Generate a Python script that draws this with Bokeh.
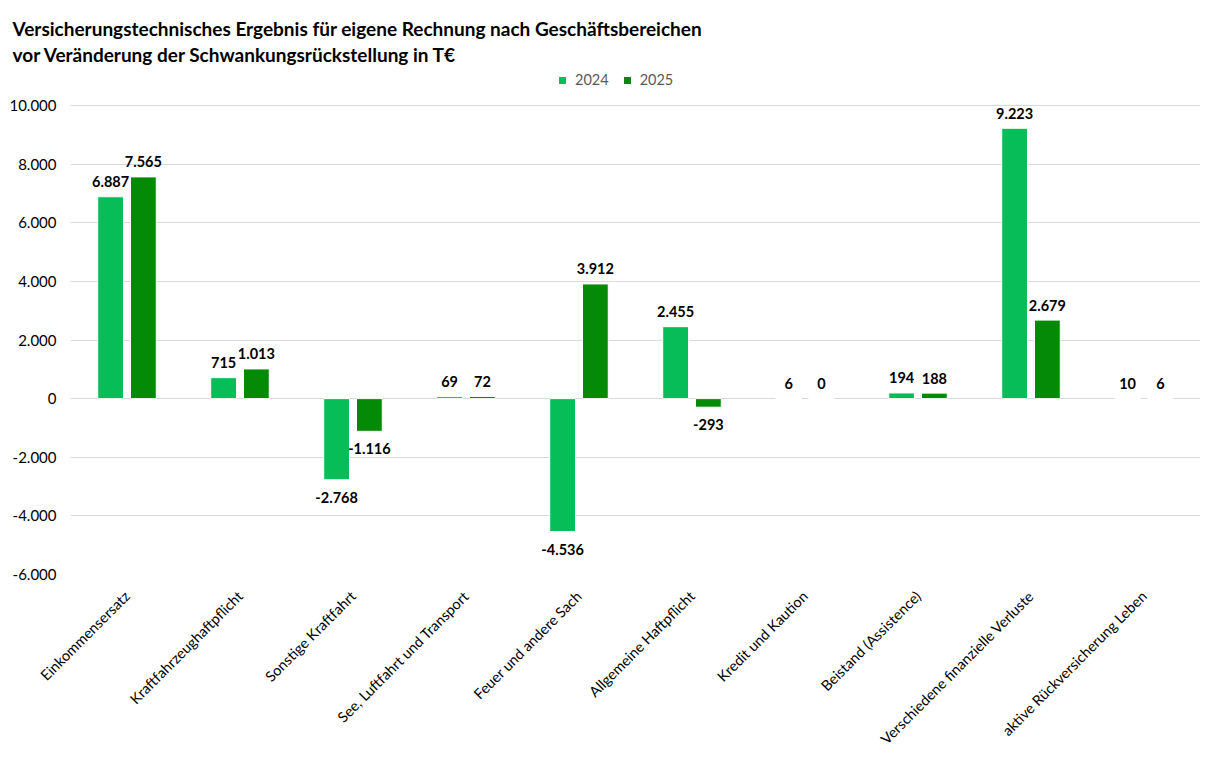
from bokeh.plotting import figure
from bokeh.models import (ColumnDataSource, FactorRange, Legend, LegendItem, Title, FixedTicker,
                          Range1d)
from bokeh.transform import dodge
from bokeh.core.properties import value
from bokeh.embed import file_html
from bokeh.resources import INLINE
import math

categories = ["Einkommensersatz", "Kraftfahrzeughaftpflicht", "Sonstige Kraftfahrt",
              "See, Luftfahrt und Transport", "Feuer und andere Sach", "Allgemeine Haftpflicht",
              "Kredit und Kaution", "Beistand (Assistence)", "Verschiedene finanzielle Verluste",
              "aktive Rückversicherung Leben"]
values_2024 = [6887, 715, -2768, 69, -4536, 2455, 6, 194, 9223, 10]
values_2025 = [7565, 1013, -1116, 72, 3912, -293, 0, 188, 2679, 6]
series = ["2024", "2025"]
colors = ["#07BD57", "#058A07"]
y_ticks = [-6000, -4000, -2000, 0, 2000, 4000, 6000, 8000, 10000]
y_tick_labels = ["-6.000", "-4.000", "-2.000", "0", "2.000", "4.000", "6.000", "8.000", "10.000"]
title_lines = ["Versicherungstechnisches Ergebnis für eigene Rechnung nach Geschäftsbereichen",
               "vor Veränderung der Schwankungsrückstellung in T€"]

FONT = "Lato"

def de(v):
    return f"{v:,}".replace(",", ".")

W, H = 1200, 756
FRAME_TOP, GRID_TOP, FRAME_BOTTOM = 66, 105, 574
y_min, y_max = y_ticks[0], y_ticks[-1]
px_per_unit = (FRAME_BOTTOM - GRID_TOP) / (y_max - y_min)
y_end = y_max + (GRID_TOP - FRAME_TOP) / px_per_unit

p = figure(x_range=FactorRange(*categories), y_range=Range1d(y_min, y_end),
           width=W, height=H, output_backend="svg", toolbar_location=None,
           min_border_left=70, min_border_right=0, min_border_top=FRAME_TOP,
           min_border_bottom=H - FRAME_BOTTOM)
p.outline_line_color = None
p.xgrid.grid_line_color = None
p.ygrid.grid_line_color = "#D9D9D9"
p.ygrid.grid_line_width = 1

p.yaxis.ticker = FixedTicker(ticks=y_ticks)
p.yaxis.major_label_overrides = {t: l for t, l in zip(y_ticks, y_tick_labels)}
p.yaxis.axis_line_color = None
p.yaxis.major_tick_line_color = None
p.yaxis.minor_tick_line_color = None
p.yaxis.major_tick_out = 0
p.yaxis.major_label_standoff = 14
p.yaxis.major_label_text_font = FONT
p.yaxis.major_label_text_font_size = "15px"
p.yaxis.major_label_text_color = "#000000"

p.xaxis.axis_line_color = None
p.xaxis.major_tick_line_color = None
p.xaxis.major_tick_out = 0
p.xaxis.major_tick_in = 0
p.xaxis.major_label_orientation = math.pi / 4
p.xaxis.major_label_standoff = 19
p.xaxis.major_label_text_font = FONT
p.xaxis.major_label_text_font_size = "14.5px"
p.xaxis.major_label_text_color = "#000000"

offsets = [-0.145, 0.145]
renderers = []
for vals, off, col in zip([values_2024, values_2025], offsets, colors):
    src = ColumnDataSource(dict(cat=categories, v=vals))
    r = p.vbar(x=dodge("cat", off, range=p.x_range), top="v", bottom=0, width=0.228,
               source=src, fill_color=col, line_color="white", line_width=1)
    renderers.append(r)
    pos = [(c, v) for c, v in zip(categories, vals) if v >= 0]
    neg = [(c, v) for c, v in zip(categories, vals) if v < 0]
    if pos:
        ps = ColumnDataSource(dict(cat=[c for c, _ in pos], v=[v for _, v in pos],
                                   t=[de(v) for _, v in pos]))
        p.text(x=dodge("cat", off, range=p.x_range), y="v", text="t", source=ps,
               text_align="center", text_baseline="alphabetic", y_offset=-15,
               text_font=value(FONT), text_font_style="bold", text_font_size="14.5px",
               text_color="#000000")
    if neg:
        ns = ColumnDataSource(dict(cat=[c for c, _ in neg], v=[v for _, v in neg],
                                   t=[de(v) for _, v in neg]))
        p.text(x=dodge("cat", off, range=p.x_range), y="v", text="t", source=ns,
               text_align="center", text_baseline="top", y_offset=12,
               text_font=value(FONT), text_font_style="bold", text_font_size="14.5px",
               text_color="#000000")

legend = Legend(items=[LegendItem(label=s, renderers=[r]) for s, r in zip(series, renderers)],
                location=(487, FRAME_BOTTOM - 88), orientation="horizontal",
                border_line_color=None, background_fill_alpha=0, padding=0, margin=0,
                spacing=13, glyph_width=10, glyph_height=10, label_standoff=8,
                label_height=16, label_text_font=FONT, label_text_font_size="14.5px",
                label_text_color="#595959")
p.add_layout(legend, "center")

for line, so in zip(reversed(title_lines), [2, 0]):
    p.add_layout(Title(text=line, align="left", offset=-58, standoff=so,
                       text_font=FONT, text_font_style="bold", text_font_size="19px",
                       text_color="#000000"), "above")

open("out.html", "w").write(file_html(p, INLINE))
